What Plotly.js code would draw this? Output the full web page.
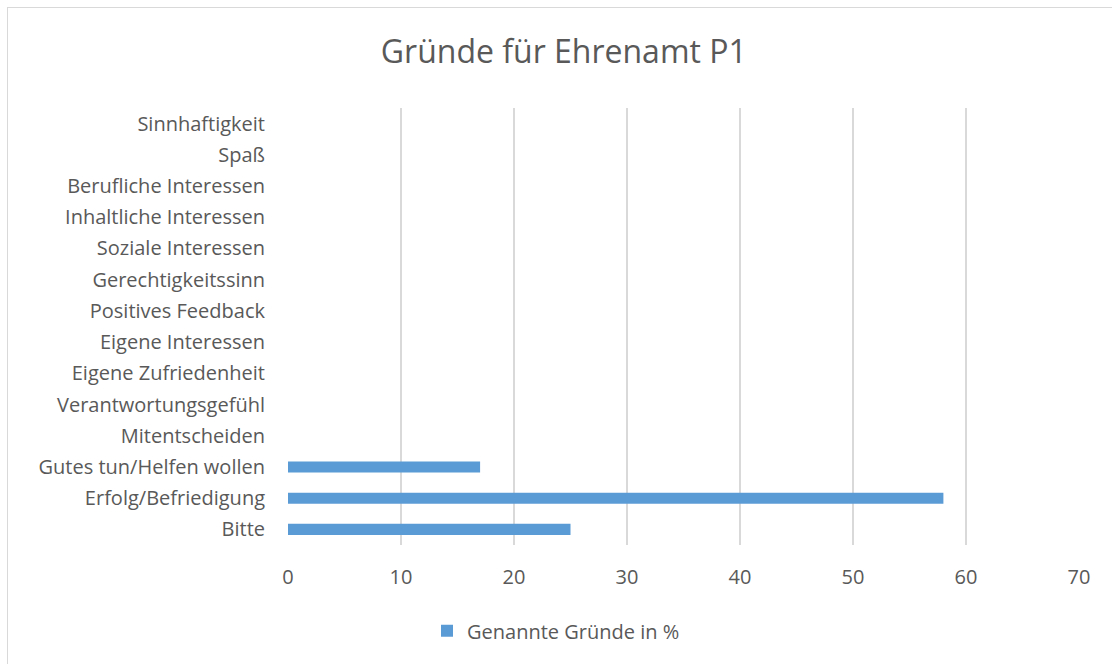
<!DOCTYPE html>
<html>
<head>
<meta charset="utf-8">
<script src="https://cdn.plot.ly/plotly-3.0.1.min.js"></script>
<style>
  html, body { margin: 0; padding: 0; background: #ffffff; }
  #wrap { position: relative; width: 1112px; height: 664px; overflow: hidden; }
  #frame { position: absolute; left: 7px; top: 7px; width: 1130px; height: 700px; border: 1px solid #d9d9d9; box-sizing: border-box; }
  #chart { position: absolute; left: 0; top: 0; width: 1112px; height: 664px; }
</style>
</head>
<body>
<div id="wrap">
  <div id="frame"></div>
  <div id="chart"></div>
</div>
<script>
const categories = [
  "Bitte",
  "Erfolg/Befriedigung",
  "Gutes tun/Helfen wollen",
  "Mitentscheiden",
  "Verantwortungsgefühl",
  "Eigene Zufriedenheit",
  "Eigene Interessen",
  "Positives Feedback",
  "Gerechtigkeitssinn",
  "Soziale Interessen",
  "Inhaltliche Interessen",
  "Berufliche Interessen",
  "Spaß",
  "Sinnhaftigkeit"
];
const values = [25, 58, 17, 0, 0, 0, 0, 0, 0, 0, 0, 0, 0, 0];
const seriesName = "Genannte Gründe in %";
const chartTitle = "Gründe für Ehrenamt P1";
const xTicks = [0, 10, 20, 30, 40, 50, 60, 70];

const font = "'Open Sans', sans-serif";
const textColor = "#595959";

const data = [{
  type: "bar",
  orientation: "h",
  y: categories,
  x: values,
  name: seriesName,
  marker: { color: "#5b9bd5" },
  showlegend: true,
  hoverinfo: "x+y"
}];

const layout = {
  width: 1112,
  height: 664,
  paper_bgcolor: "rgba(0,0,0,0)",
  plot_bgcolor: "rgba(0,0,0,0)",
  margin: { l: 288, r: 33, t: 108, b: 119 },
  bargap: 0.645,
  font: { family: font, color: textColor, size: 20 },
  title: {
    text: chartTitle,
    font: { family: font, size: 32, color: textColor },
    xref: "container", x: 0.507, xanchor: "center",
    yref: "container", y: 0.922, yanchor: "middle"
  },
  xaxis: {
    range: [0, 70],
    tickvals: xTicks,
    ticktext: xTicks.map(String),
    showgrid: true,
    gridcolor: "#d9d9d9",
    gridwidth: 1.5,
    zeroline: false,
    showline: false,
    ticks: "",
    ticklabelstandoff: 18,
    tickfont: { family: font, size: 20, color: textColor },
    fixedrange: true
  },
  yaxis: {
    type: "category",
    categoryorder: "array",
    categoryarray: categories,
    showgrid: false,
    zeroline: false,
    showline: false,
    ticks: "",
    ticklabelstandoff: 22,
    tickfont: { family: font, size: 20, color: textColor },
    fixedrange: true
  },
  legend: {
    orientation: "h",
    xref: "container", x: 0.5, xanchor: "center",
    yref: "container", y: 0.05, yanchor: "middle",
    font: { family: font, size: 20, color: textColor },
    itemwidth: 30,
    bgcolor: "rgba(0,0,0,0)"
  }
};

Plotly.newPlot("chart", data, layout, { displayModeBar: false, staticPlot: true });
</script>
</body>
</html>
